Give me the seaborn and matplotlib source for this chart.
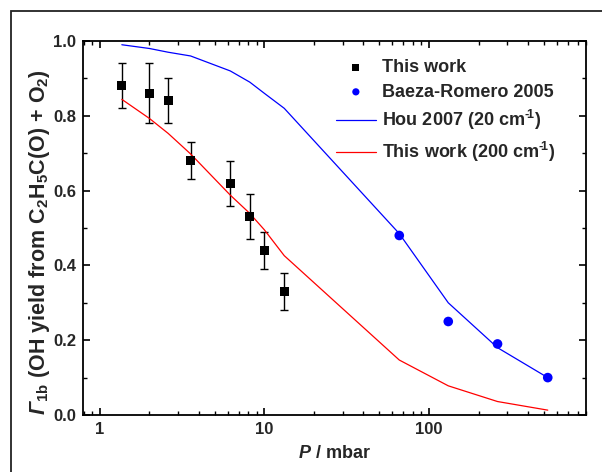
import numpy as np
import pandas as pd
import matplotlib
matplotlib.use("Agg")
import matplotlib.pyplot as plt
from matplotlib.patches import Rectangle
from matplotlib.ticker import MultipleLocator, LogLocator, NullFormatter, FixedLocator, FixedFormatter
import seaborn as sns

# ---- data ----
this_p = [1.36, 2.0, 2.6, 3.56, 6.2, 8.15, 10.0, 13.2]
this_y = [0.88, 0.86, 0.84, 0.68, 0.62, 0.53, 0.44, 0.33]
this_err = [0.06, 0.08, 0.06, 0.05, 0.06, 0.06, 0.05, 0.05]

baeza_p = [66.0, 131.0, 261.0, 527.0]
baeza_y = [0.48, 0.25, 0.19, 0.10]

line_p = [1.36, 2.0, 2.6, 3.56, 6.2, 8.15, 10.0, 13.2, 66.0, 131.0, 261.0, 527.0]
hou_y = [0.99, 0.98, 0.97, 0.96, 0.92, 0.89, 0.86, 0.82, 0.485, 0.30, 0.18, 0.10]
tw200_y = [0.844, 0.793, 0.753, 0.698, 0.588, 0.539, 0.495, 0.426, 0.147, 0.078, 0.036, 0.013]

xtick_vals = [1, 10, 100]
xtick_labels = ["1", "10", "100"]
ytick_vals = [0, 0.2, 0.4, 0.6, 0.8, 1.0]
ytick_labels = ["0.0", "0.2", "0.4", "0.6", "0.8", "1.0"]

lab_tw = "This work"
lab_bz = "Baeza-Romero 2005"
lab_hou = "Hou 2007 (20 cm$^{\u2010\\!1}$)"
lab_tw200 = "This work (200 cm$^{\u2010\\!1}$)"

sns.set_theme(style="white")
plt.rcParams['font.family'] = ['Liberation Sans', 'DejaVu Sans']
plt.rcParams['font.weight'] = 'bold'
plt.rcParams['mathtext.fontset'] = 'custom'
plt.rcParams['mathtext.rm'] = 'Liberation Sans:bold'
plt.rcParams['mathtext.bf'] = 'Liberation Sans:bold'
plt.rcParams['mathtext.it'] = 'Liberation Sans:italic:bold'
plt.rcParams['mathtext.cal'] = 'Liberation Sans:italic:bold'
plt.rcParams['mathtext.default'] = 'rm'

fig = plt.figure(figsize=(6.02, 4.72), dpi=100)
ax = fig.add_axes([83/602, 1-415/472, (586-83)/602, (415-41)/472])

df_tw = pd.DataFrame({"P": this_p, "y": this_y})
df_bz = pd.DataFrame({"P": baeza_p, "y": baeza_y})
df_line = pd.DataFrame({"P": line_p, "hou": hou_y, "tw": tw200_y})

ax.errorbar(this_p, this_y, yerr=this_err, fmt='none', ecolor='black',
            elinewidth=1, capsize=3, capthick=1, zorder=2)
sns.lineplot(data=df_line, x="P", y="hou", ax=ax, color='#0000ff', lw=0.9,
             label=lab_hou, zorder=3)
sns.lineplot(data=df_line, x="P", y="tw", ax=ax, color='#ff0000', lw=0.9,
             label=lab_tw200, zorder=3)
sns.scatterplot(data=df_tw, x="P", y="y", ax=ax, marker='s', color='black',
                s=42, edgecolor='none', label=lab_tw, zorder=4)
sns.scatterplot(data=df_bz, x="P", y="y", ax=ax, marker='o', color='#0000ff',
                s=48, edgecolor='none', label=lab_bz, zorder=4)

ax.set_xscale('log')
ax.set_xlim(0.79, 900)
ax.set_ylim(0, 1.0)

ax.xaxis.set_major_locator(FixedLocator(xtick_vals))
ax.xaxis.set_major_formatter(FixedFormatter(xtick_labels))
ax.xaxis.set_minor_locator(LogLocator(base=10, subs=np.arange(2, 10)))
ax.xaxis.set_minor_formatter(NullFormatter())
ax.set_yticks(ytick_vals)
ax.set_yticklabels(ytick_labels)
ax.yaxis.set_minor_locator(MultipleLocator(0.1))

ax.tick_params(which='both', direction='in', top=True, right=True,
               bottom=True, left=True, color='black')
ax.tick_params(which='major', length=5, width=1.2, labelsize=12, pad=5)
ax.tick_params(which='minor', length=3, width=1.0)
for lab in ax.get_xticklabels() + ax.get_yticklabels():
    lab.set_fontweight('bold')
for s in ax.spines.values():
    s.set_color('black')
    s.set_linewidth(1.3)

ax.set_xlabel(r"$\mathit{P}$ / mbar", fontsize=13, fontweight='bold', labelpad=6)
ax.set_ylabel(r"$\mathcal{Γ}_{1b}$ (OH yield from C$_2$H$_5$C(O) + O$_2$)",
              fontsize=15.5, fontweight='bold')
ax.yaxis.set_label_coords(-0.062, 0.463)

handles, labels = ax.get_legend_handles_labels()
order = [labels.index(l) for l in [lab_tw, lab_bz, lab_hou, lab_tw200]]
leg = ax.legend([handles[i] for i in order], [labels[i] for i in order],
                loc='upper left', bbox_to_anchor=((336-83)/503, (415-59)/374),
                frameon=False, fontsize=13, handlelength=2.2, handletextpad=0.35,
                labelspacing=0.42, borderaxespad=0, borderpad=0, markerscale=0.75)
for t in leg.get_texts():
    t.set_fontweight('bold')

fig.add_artist(Rectangle((11/602, -0.1), 1.2, 1.1 - 11/472, transform=fig.transFigure,
                         fill=False, lw=1.3, ec='#222222'))

fig.savefig("out.png", dpi=100)
